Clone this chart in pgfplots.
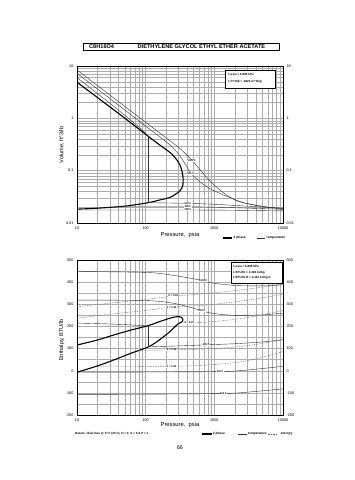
\documentclass[border=0pt]{standalone}
\usepackage{fontspec}
\setmainfont{Liberation Sans}
\usepackage{pgfplots}
\pgfplotsset{compat=1.18}
\tikzset{
 mysat/.style={black, line width=1.1pt, smooth, tension=0.5},
 myiso/.style={black!80, line width=0.4pt, smooth, tension=0.5},
 myent/.style={black!55, line width=0.4pt, dash pattern=on 1.5pt off 1pt, smooth, tension=0.5},
 mylab/.style={font=\fontsize{2.6}{3}\selectfont\bfseries, fill=white, inner sep=0.3pt},
}
\begin{document}
\begin{tikzpicture}
\useasboundingbox (0pt,0pt) rectangle (355pt,480pt);
% title box
\draw[line width=0.6pt] (83pt,430pt) rectangle (279pt,436.5pt);
\node[font=\fontsize{5.6}{6}\selectfont\bfseries, anchor=west, inner sep=0] at (89pt,433.2pt) {C8H16O4};
\node[font=\fontsize{5.6}{6}\selectfont\bfseries, anchor=west, inner sep=0] at (137.5pt,433.2pt) {DIETHYLENE GLYCOL ETHYL ETHER ACETATE};

% ---------------- top: volume ----------------
\begin{axis}[at={(77pt,257pt)}, anchor=south west, scale only axis, width=206pt, height=157pt,
  xmode=log, ymode=log, xmin=10, xmax=10000, ymin=0.01, ymax=10,
  xtick={10,100,1000,10000}, xticklabels={10,100,1000,10000},
  ytick={0.01,0.1,1,10}, yticklabels={0.01,0.1,1,10},
  grid=both, major grid style={gray!65, line width=0.35pt}, minor grid style={gray!65, line width=0.35pt},
  axis line style={line width=0.6pt}, tick style={draw=none},
  tick label style={font=\fontsize{3.8}{4}\selectfont}]
\addplot[mysat, no marks] coordinates {(10,4.9) (20,2.48) (50,1.0) (110,0.45) (160,0.31) (239,0.21) (290,0.155) (316,0.128) (340,0.095) (350,0.075) (352,0.061) (345,0.05) (334,0.046) (310,0.04) (283,0.0368) (240,0.032) (202,0.0295) (150,0.027) (110,0.0245) (50,0.021) (20,0.0192) (10,0.0184)};
\addplot[myiso, no marks] coordinates {(10,8.4) (30,2.8) (100,0.84) (200,0.42) (316,0.265) (467,0.16) (617,0.105) (850,0.065) (1205,0.0426) (1700,0.031) (2360,0.0254) (5000,0.0205) (10000,0.019)};
\addplot[myiso, no marks] coordinates {(10,7.25) (30,2.4) (100,0.71) (226,0.31) (316,0.19) (452,0.092) (617,0.0613) (850,0.046) (1205,0.0368) (2000,0.028) (2950,0.0237) (5500,0.0205) (10000,0.0182)};
\addplot[myiso, no marks] coordinates {(10,6.0) (30,1.95) (60,0.93) (90,0.59) (110,0.45)};
\addplot[black!80, line width=0.4pt, no marks] coordinates {(110,0.45) (110,0.0245)};
\addplot[myiso, no marks] coordinates {(110,0.0245) (413,0.0237) (1000,0.0228) (3000,0.021) (10000,0.0192)};
\addplot[myiso, no marks] coordinates {(35,0.0204) (413,0.0204) (1500,0.0198) (4000,0.0190) (10000,0.0183)};
\addplot[myiso, no marks] coordinates {(10,0.0177) (413,0.0177) (2000,0.0175) (10000,0.0170)};
\node[mylab] at (axis cs:468,0.153) {1000 F};
\node[mylab] at (axis cs:452,0.0888) {800 F};
\node[mylab] at (axis cs:413,0.0237) {600 F};
\node[mylab] at (axis cs:413,0.0204) {400 F};
\node[mylab] at (axis cs:413,0.0177) {200 F};
\end{axis}
\begin{axis}[at={(77pt,257pt)}, anchor=south west, scale only axis, width=206pt, height=157pt,
  xmode=log, ymode=log, xmin=10, xmax=10000, ymin=0.01, ymax=10,
  ytick={0.01,0.1,1,10}, yticklabels={0.01,0.1,1,10}, tick style={draw=none},
  axis x line=none, axis y line*=right, axis line style={line width=0.6pt},
  tick label style={font=\fontsize{3.8}{4}\selectfont}]
\addplot[draw=none] coordinates {(100,1)};
\end{axis}
\draw[fill=white, line width=0.4pt] (225pt,392pt) rectangle (275pt,410pt);
\node[font=\fontsize{3}{3.5}\selectfont\bfseries, anchor=west, inner sep=0] at (228pt,405pt) {1 psia = 6.895 kPa};
\node[font=\fontsize{3}{3.5}\selectfont\bfseries, anchor=west, inner sep=0] at (228pt,398pt) {1 ft\textasciicircum3/lb = .0624 m\textasciicircum3/kg};
\node[font=\fontsize{5.6}{6}\selectfont, rotate=90] at (61.7pt,335pt) {Volume, ft\textasciicircum3/lb};
\node[font=\fontsize{5.8}{6}\selectfont] at (180pt,245pt) {Pressure,\ \ psia};
\draw[line width=1.1pt] (223pt,242pt) -- (232pt,242pt);
\node[font=\fontsize{3.2}{3.5}\selectfont\bfseries, anchor=west, inner sep=0] at (233.5pt,242pt) {2 phase};
\draw[line width=0.4pt, black!80] (257pt,242pt) -- (265pt,242pt);
\node[font=\fontsize{3.2}{3.5}\selectfont\bfseries, anchor=west, inner sep=0] at (266.5pt,242pt) {temperature};

% ---------------- bottom: enthalpy ----------------
\begin{axis}[at={(77pt,65pt)}, anchor=south west, scale only axis, width=206pt, height=155pt,
  xmode=log, xmin=10, xmax=10000, ymin=-200, ymax=500,
  xtick={10,100,1000,10000}, xticklabels={10,100,1000,10000},
  ytick={-200,-100,0,100,200,300,400,500}, yticklabels={-200,-100,0,100,200,300,400,500},
  minor ytick={-150,-50,50,150,250,350,450},
  grid=both, major grid style={gray!65, line width=0.35pt}, minor grid style={gray!65, line width=0.35pt},
  axis line style={line width=0.6pt}, tick style={draw=none},
  tick label style={font=\fontsize{3.8}{4}\selectfont}]
\addplot[mysat, no marks] coordinates {(10,116) (20,139) (34,161) (60,183) (110,204) (160,222) (220,236) (270,243) (310,244) (335,240) (348,232) (345,224) (330,219) (298,212) (260,195) (226,177) (160,140) (110,108) (60,78) (34,48) (20,22) (10,-7)};
\addplot[myiso, no marks] coordinates {(10,448) (100,444) (226,433) (500,415) (690,405) (1000,395) (2000,385) (5000,383) (10000,388)};
\addplot[myiso, no marks] coordinates {(10,319) (100,317) (250,305) (500,282) (660,270) (1000,258) (2000,250) (5000,252) (10000,260)};
\addplot[myiso, no marks] coordinates {(10,215) (30,211) (60,207) (110,202)};
\addplot[black!80, line width=0.4pt, no marks] coordinates {(110,202) (110,108)};
\addplot[myiso, no marks] coordinates {(110,108) (300,112) (770,117) (2000,122) (5000,130) (10000,140)};
\addplot[myiso, no marks] coordinates {(10,-6) (100,-6) (1205,-4) (3000,3) (10000,20)};
\addplot[myiso, no marks] coordinates {(10,-107) (100,-106) (1350,-103) (3000,-97) (10000,-82)};
\addplot[myent, no marks] coordinates {(10,289) (30,305) (100,322) (252,337) (600,345) (1000,352) (3000,368) (10000,392)};
\addplot[myent, no marks] coordinates {(10,237) (30,255) (100,272) (238,287) (600,294) (1000,300) (3000,318) (10000,345)};
\addplot[myent, no marks] coordinates {(345,221) (417,217) (1000,222) (3000,240) (10000,272)};
\addplot[myent, no marks] coordinates {(80,92) (238,94) (1000,100) (3000,113) (10000,140)};
\addplot[myent, no marks] coordinates {(20,21) (238,20) (1000,28) (3000,45) (10000,86)};
\node[mylab] at (axis cs:690,405) {1000 F};
\node[mylab] at (axis cs:660,270) {800 F};
\node[mylab] at (axis cs:770,117) {600 F};
\node[mylab] at (axis cs:1205,-4) {400 F};
\node[mylab] at (axis cs:1350,-103) {200 F};
\node[mylab] at (axis cs:252,338) {S = 0.30};
\node[mylab] at (axis cs:238,287) {S = 0.25};
\node[mylab] at (axis cs:430,217) {S = 0.20};
\node[mylab] at (axis cs:238,94) {S = 0.10};
\node[mylab] at (axis cs:238,20) {S = 0.05};
\end{axis}
\begin{axis}[at={(77pt,65pt)}, anchor=south west, scale only axis, width=206pt, height=155pt,
  xmode=log, xmin=10, xmax=10000, ymin=-200, ymax=500,
  ytick={-200,-100,0,100,200,300,400,500}, yticklabels={-200,-100,0,100,200,300,400,500},
  tick style={draw=none}, axis x line=none, axis y line*=right, axis line style={line width=0.6pt},
  tick label style={font=\fontsize{3.8}{4}\selectfont}]
\addplot[draw=none] coordinates {(100,0)};
\end{axis}
\draw[fill=white, line width=0.4pt] (231pt,197pt) rectangle (282pt,218pt);
\node[font=\fontsize{3}{3.5}\selectfont\bfseries, anchor=west, inner sep=0] at (233pt,213pt) {1 psia = 6.895 kPa};
\node[font=\fontsize{3}{3.5}\selectfont\bfseries, anchor=west, inner sep=0] at (233pt,207.5pt) {1 BTU/lb = 2.326 kJ/kg};
\node[font=\fontsize{3}{3.5}\selectfont\bfseries, anchor=west, inner sep=0] at (233pt,202pt) {1 BTU/lb R = 4.187 kJ/kg K};
\node[font=\fontsize{5.6}{6}\selectfont, rotate=90] at (61.7pt,140pt) {Enthalpy, BTU/lb};
\node[font=\fontsize{5.8}{6}\selectfont] at (180pt,54.5pt) {Pressure,\ \ psia};
\node[font=\fontsize{3}{3.5}\selectfont\bfseries, anchor=west, inner sep=0] at (75pt,46pt) {Datum: ideal Gas @ 77 F (25 C), H = 0, S = 0 \& P = 1};
\draw[line width=1.1pt] (202pt,46pt) -- (211.5pt,46pt);
\node[font=\fontsize{3.2}{3.5}\selectfont\bfseries, anchor=west, inner sep=0] at (212.7pt,46pt) {2 phase};
\draw[line width=0.4pt, black!80] (238pt,46pt) -- (246.5pt,46pt);
\node[font=\fontsize{3.2}{3.5}\selectfont\bfseries, anchor=west, inner sep=0] at (248pt,46pt) {temperature};
\draw[line width=0.4pt, black!55, dash pattern=on 1.5pt off 1pt] (268pt,46pt) -- (278pt,46pt);
\node[font=\fontsize{3.2}{3.5}\selectfont\bfseries, anchor=west, inner sep=0] at (280.5pt,46pt) {entropy};
\node[font=\fontsize{5.5}{6}\selectfont] at (180pt,32pt) {66};
\end{tikzpicture}
\end{document}
